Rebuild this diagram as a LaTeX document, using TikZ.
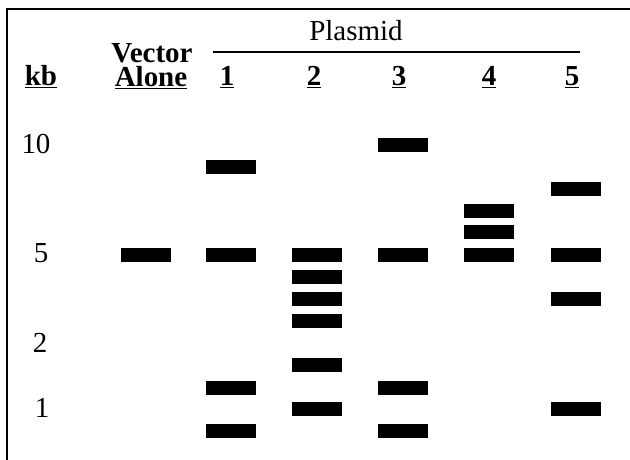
\documentclass[tikz,border=0pt]{standalone}
\usepackage{fontspec}
\setmainfont{Liberation Serif}
\usepackage{tikz}

\tikzset{
  band/.style={rectangle,fill=black,minimum width=1cm,minimum height=0.28cm,inner sep=0pt},
  head/.style={font=\fontsize{16.5}{18}\selectfont\bfseries,anchor=base,inner sep=0pt},
  size/.style={font=\fontsize{16.5}{18}\selectfont,anchor=center,inner sep=0pt}
}

\begin{document}
\begin{tikzpicture}[x=0.02cm,y=-0.02cm]
    \useasboundingbox (0,0) rectangle (630,460);
    % frame
    \draw[line width=1.1pt] (7,460) -- (7,9) -- (630,9);

    % headers
    \node (kb) at (41,85) [head] {\underline{kb}};
    \node (vector) at (152,62) [head] {Vector};
    \node (alone) at (151,86) [head] {\underline{Alone}};
    \node (plasmid) at (356,40) [size,anchor=base] {Plasmid};
    \draw[line width=0.6pt] (213,52) -- (580,52); % Plasmid rule
    \node (p1) at (227,85) [head] {\underline{1}};
    \node (p2) at (314,85) [head] {\underline{2}};
    \node (p3) at (399,85) [head] {\underline{3}};
    \node (p4) at (489,85) [head] {\underline{4}};
    \node (p5) at (572,85) [head] {\underline{5}};

    % sizes
    \node (k10) at (36,144) [size] {10};
    \node (k5) at (41,253) [size] {5};
    \node (k2) at (40,343) [size] {2};
    \node (k1) at (42,408) [size] {1};

    % bands
    \node (va) at (146,255) [band] {}; % vector alone
    \node (a1) at (231,167) [band] {}; % plasmid 1
    \node (a2) at (231,255) [band] {};
    \node (a3) at (231,388) [band] {};
    \node (a4) at (231,431) [band] {};
    \node (b1) at (317,255) [band] {}; % plasmid 2
    \node (b2) at (317,277) [band] {};
    \node (b3) at (317,299) [band] {};
    \node (b4) at (317,321) [band] {};
    \node (b5) at (317,365) [band] {};
    \node (b6) at (317,409) [band] {};
    \node (c1) at (403,145) [band] {}; % plasmid 3
    \node (c2) at (403,255) [band] {};
    \node (c3) at (403,388) [band] {};
    \node (c4) at (403,431) [band] {};
    \node (d1) at (489,211) [band] {}; % plasmid 4
    \node (d2) at (489,232) [band] {};
    \node (d3) at (489,255) [band] {};
    \node (e1) at (576,189) [band] {}; % plasmid 5
    \node (e2) at (576,255) [band] {};
    \node (e3) at (576,299) [band] {};
    \node (e4) at (576,409) [band] {};

\end{tikzpicture}
\end{document}
